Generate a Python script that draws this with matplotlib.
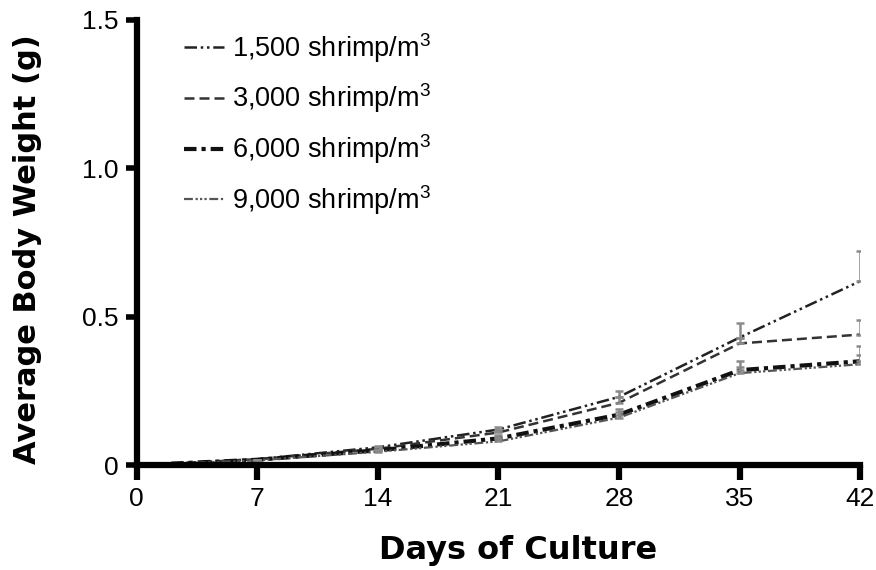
import matplotlib.pyplot as plt
import numpy as np

days = [2, 7, 14, 21, 28, 35, 42]
w_1500 = [0.005, 0.02, 0.06, 0.12, 0.23, 0.43, 0.62]
w_3000 = [0.005, 0.02, 0.055, 0.11, 0.21, 0.41, 0.44]
w_6000 = [0.005, 0.018, 0.05, 0.09, 0.17, 0.32, 0.35]
w_9000 = [0.005, 0.016, 0.045, 0.08, 0.16, 0.31, 0.34]
err_1500 = [0, 0, 0.005, 0.01, 0.02, 0.05, 0.10]
err_3000 = [0, 0, 0.005, 0.01, 0.02, 0.02, 0.05]
err_6000 = [0, 0, 0.005, 0.01, 0.02, 0.03, 0.05]
err_9000 = [0, 0, 0.005, 0.01, 0.02, 0.02, 0.03]

labels = ['1,500 shrimp/m$^3$', '3,000 shrimp/m$^3$', '6,000 shrimp/m$^3$', '9,000 shrimp/m$^3$']

plt.rcParams['font.family'] = ['Liberation Sans', 'DejaVu Sans']
plt.rcParams['mathtext.fontset'] = 'custom'
plt.rcParams['mathtext.rm'] = 'Liberation Sans'

fig = plt.figure(figsize=(8.76, 5.70), dpi=100)
ax = fig.add_axes([0.156, 0.184, 0.826, 0.781])

series = [w_1500, w_3000, w_6000, w_9000]
errs = [err_1500, err_3000, err_6000, err_9000]
styles = [
    dict(ls=(0, (5, 1.5, 1, 1.5, 1, 1.5)), lw=1.8, color='#222222'),
    dict(ls=(0, (4, 2)), lw=1.8, color='#333333'),
    dict(ls=(0, (3, 1.2, 1, 1.2)), lw=3.0, color='#111111'),
    dict(ls=(0, (4, 1.2, 1, 1, 1, 1, 1, 1.2)), lw=1.6, color='#555555'),
]

for y, e, lab, st in zip(series, errs, labels, styles):
    ax.plot(days, y, label=lab, **st)
    ax.errorbar(days, y, yerr=[np.zeros(len(e)), e], fmt='none',
                ecolor='#8a8a8a', elinewidth=1.8, capsize=3, capthick=1.8)

ax.set_xlim(0, 42)
ax.set_ylim(0, 1.5)
ax.set_xticks([0, 7, 14, 21, 28, 35, 42])
ax.set_yticks([0, 0.5, 1.0, 1.5])
ax.set_yticklabels(['0', '0.5', '1.0', '1.5'])

for s in ['top', 'right']:
    ax.spines[s].set_visible(False)
for s in ['left', 'bottom']:
    ax.spines[s].set_linewidth(4.5)
    ax.spines[s].set_capstyle('projecting')
ax.tick_params(axis='x', direction='out', length=11, width=4.5, labelsize=19, pad=5)
ax.tick_params(axis='y', direction='out', length=8, width=4, labelsize=19, pad=5)

ax.set_xlabel('Days of Culture', fontsize=23, fontweight='bold', family='DejaVu Sans')
ax.set_ylabel('Average Body Weight (g)', fontsize=22, fontweight='bold', family='DejaVu Sans')
ax.xaxis.set_label_coords(0.527, -0.158)
ax.yaxis.set_label_coords(-0.131, 0.485)

ax.legend(loc='upper left', bbox_to_anchor=(0.066, 0.975), frameon=False, fontsize=19.5,
          handlelength=1.45, labelspacing=0.62, handletextpad=0.3,
          borderpad=0, borderaxespad=0)

fig.savefig('out.png', dpi=100)
